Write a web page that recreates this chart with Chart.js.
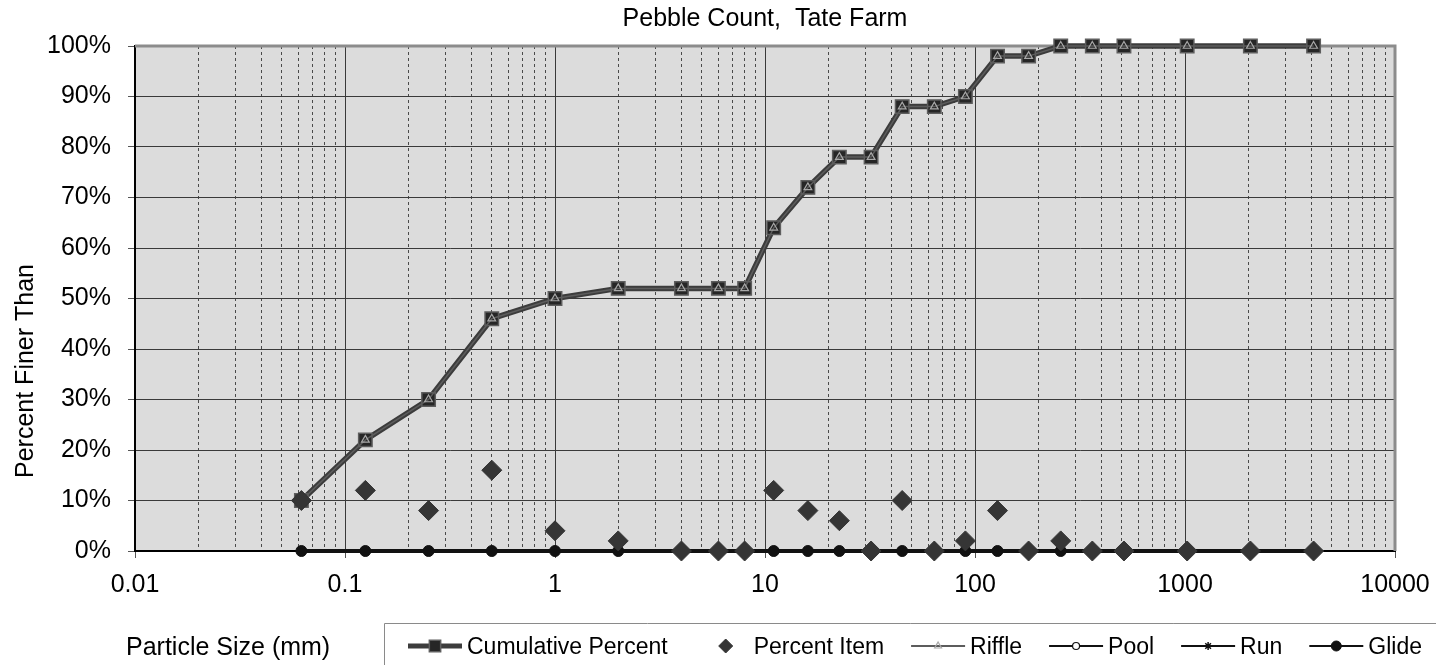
<!DOCTYPE html>
<html>
<head>
<meta charset="utf-8">
<title>Pebble Count, Tate Farm</title>
<script src="https://cdn.jsdelivr.net/npm/chart.js@4.4.1/dist/chart.umd.min.js"></script>
<style>
  html, body { margin: 0; padding: 0; background: #ffffff; }
  #wrap { width: 1436px; height: 665px; position: relative; }
</style>
</head>
<body>
<div id="wrap"><canvas id="chart" width="1436" height="665"></canvas></div>
<script>
// ---- chart text ----
const chartTitle = 'Pebble Count,  Tate Farm';
const xAxisTitle = 'Particle Size (mm)';
const yAxisTitle = 'Percent Finer Than';

// ---- sieve sizes (mm) ----
const particleSizes = [0.062, 0.125, 0.25, 0.5, 1, 2, 4, 6, 8, 11, 16, 22.6, 32, 45, 64, 90, 128, 180, 256, 362, 512, 1024, 2048, 4096];

// ---- series (percent) ----
const cumulativePercent = [10, 22, 30, 46, 50, 52, 52, 52, 52, 64, 72, 78, 78, 88, 88, 90, 98, 98, 100, 100, 100, 100, 100, 100];
const percentItem       = [10, 12, 8, 16, 4, 2, 0, 0, 0, 12, 8, 6, 0, 10, 0, 2, 8, 0, 2, 0, 0, 0, 0, 0];
const riffle            = [10, 22, 30, 46, 50, 52, 52, 52, 52, 64, 72, 78, 78, 88, 88, 90, 98, 98, 100, 100, 100, 100, 100, 100];
const pool              = [0, 0, 0, 0, 0, 0, 0, 0, 0, 0, 0, 0, 0, 0, 0, 0, 0, 0, 0, 0, 0, 0, 0, 0];
const run               = [0, 0, 0, 0, 0, 0, 0, 0, 0, 0, 0, 0, 0, 0, 0, 0, 0, 0, 0, 0, 0, 0, 0, 0];
const glide             = [0, 0, 0, 0, 0, 0, 0, 0, 0, 0, 0, 0, 0, 0, 0, 0, 0, 0, 0, 0, 0, 0, 0, 0];

// ---- axis ticks ----
const xDecades = [0.01, 0.1, 1, 10, 100, 1000, 10000];
const xDecadeLabels = ['0.01', '0.1', '1', '10', '100', '1000', '10000'];
const minorMultipliers = [2, 3, 4, 5, 6, 7, 8, 9];
const yMin = 0, yMax = 100, yStep = 10;

const FONT = "'Liberation Sans', Arial, Helvetica, sans-serif";

function points(values) {
  return particleSizes.map((x, i) => ({ x: x, y: values[i] }));
}

// full log grid: decades plus 2..9 in between
function buildLogTicks() {
  const ticks = [];
  xDecades.forEach((d, i) => {
    ticks.push({ value: d, major: true, label: xDecadeLabels[i] });
    if (i < xDecades.length - 1) {
      minorMultipliers.forEach(m => {
        ticks.push({ value: +(d * m).toPrecision(6), major: false, label: '' });
      });
    }
  });
  return ticks;
}

// plot background, frame, titles and the boxed legend
const decorations = {
  id: 'decorations',
  beforeDraw(chart) {
    const { ctx, chartArea: a } = chart;
    ctx.save();
    ctx.fillStyle = '#dcdcdc';
    ctx.fillRect(a.left, a.top, a.right - a.left, a.bottom - a.top);
    ctx.restore();
  },
  beforeDatasetsDraw(chart) {
    const { ctx, chartArea: a } = chart;
    ctx.save();
    ctx.strokeStyle = '#8c8c8c';
    ctx.lineWidth = 3;
    ctx.beginPath();
    ctx.moveTo(a.left, a.top);
    ctx.lineTo(a.right, a.top);
    ctx.lineTo(a.right, a.bottom);
    ctx.stroke();
    ctx.restore();
  },
  afterDraw(chart) {
    const { ctx, chartArea: a } = chart;
    ctx.save();
    ctx.fillStyle = '#000';
    ctx.textBaseline = 'alphabetic';

    // title
    ctx.font = '25px ' + FONT;
    ctx.textAlign = 'center';
    ctx.fillText(chartTitle, (a.left + a.right) / 2, 26);

    // y axis title
    ctx.save();
    ctx.translate(33, 371);
    ctx.rotate(-Math.PI / 2);
    ctx.textAlign = 'center';
    ctx.fillText(yAxisTitle, 0, 0);
    ctx.restore();

    // x axis title
    ctx.textAlign = 'left';
    ctx.fillText(xAxisTitle, 126, 655);

    // legend box
    ctx.strokeStyle = '#8a8a8a';
    ctx.lineWidth = 1;
    ctx.beginPath();
    ctx.moveTo(384.5, 670);
    ctx.lineTo(384.5, 623.5);
    ctx.lineTo(1440, 623.5);
    ctx.stroke();

    // legend entries, in the order of the series
    const order = ['Cumulative Percent', 'Percent Item', 'Riffle', 'Pool', 'Run', 'Glide'];
    const ds = chart.data.datasets;
    const symbolW = 54, textGap = 5, itemGap = 27, cy = 646;
    let x = 408;
    ctx.font = '23px ' + FONT;
    order.forEach(name => {
      const d = ds.find(s => s.label === name);
      const sx = x + (d.legendShift || 0);
      if (d.showLine) {
        ctx.strokeStyle = d.borderColor;
        ctx.lineWidth = d.legendLineWidth || d.borderWidth;
        ctx.beginPath();
        ctx.moveTo(x, cy);
        ctx.lineTo(x + symbolW, cy);
        ctx.stroke();
      }
      ctx.fillStyle = d.pointBackgroundColor;
      ctx.strokeStyle = d.pointBorderColor;
      ctx.lineWidth = d.pointBorderWidth;
      Chart.helpers.drawPoint(ctx, {
        pointStyle: d.pointStyle,
        radius: d.legendPointRadius,
        rotation: 0,
        borderWidth: d.pointBorderWidth
      }, sx + symbolW / 2, cy);
      ctx.fillStyle = '#000';
      ctx.textAlign = 'left';
      const tx = x + symbolW + textGap;
      ctx.fillText(name, tx, 654);
      x = tx + ctx.measureText(name).width + itemGap;
    });
    ctx.restore();
  }
};

const ctx = document.getElementById('chart').getContext('2d');
new Chart(ctx, {
  type: 'scatter',
  data: {
    datasets: [
      {
        label: 'Percent Item',
        data: points(percentItem),
        showLine: false,
        pointStyle: 'rectRot',
        pointRadius: 10,
        legendPointRadius: 7,
        legendShift: 4,
        pointBackgroundColor: '#353535',
        pointBorderColor: '#353535',
        pointBorderWidth: 1,
        order: 0,
        clip: false
      },
      {
        label: 'Riffle',
        data: points(riffle),
        showLine: true,
        borderColor: '#5c5c5c',
        borderWidth: 1.5,
        legendLineWidth: 2,
        pointStyle: 'triangle',
        pointRadius: 4.5,
        legendPointRadius: 4,
        pointBackgroundColor: 'rgba(0,0,0,0)',
        pointBorderColor: '#a8a8a8',
        pointBorderWidth: 1.2,
        order: 1,
        clip: false
      },
      {
        label: 'Cumulative Percent',
        data: points(cumulativePercent),
        showLine: true,
        borderColor: '#3c3c3c',
        borderWidth: 5.5,
        legendLineWidth: 5,
        pointStyle: 'rect',
        pointRadius: 9.5,
        legendPointRadius: 8,
        pointBackgroundColor: '#262626',
        pointBorderColor: '#5e5e5e',
        pointBorderWidth: 1.5,
        order: 2,
        clip: false
      },
      {
        label: 'Glide',
        data: points(glide),
        showLine: true,
        borderColor: '#111111',
        borderWidth: 4,
        legendLineWidth: 2,
        pointStyle: 'circle',
        pointRadius: 5.5,
        legendPointRadius: 5,
        pointBackgroundColor: '#111111',
        pointBorderColor: '#111111',
        pointBorderWidth: 1,
        order: 3,
        clip: false
      },
      {
        label: 'Run',
        data: points(run),
        showLine: true,
        borderColor: '#111111',
        borderWidth: 2,
        legendLineWidth: 2,
        pointStyle: 'star',
        pointRadius: 3,
        legendPointRadius: 4,
        pointBackgroundColor: '#111111',
        pointBorderColor: '#111111',
        pointBorderWidth: 1.5,
        order: 4,
        clip: false
      },
      {
        label: 'Pool',
        data: points(pool),
        showLine: true,
        borderColor: '#111111',
        borderWidth: 2,
        legendLineWidth: 2,
        pointStyle: 'circle',
        pointRadius: 3,
        legendPointRadius: 3.5,
        pointBackgroundColor: '#ffffff',
        pointBorderColor: '#111111',
        pointBorderWidth: 1.2,
        order: 5,
        clip: false
      }
    ]
  },
  options: {
    responsive: false,
    animation: false,
    events: [],
    layout: { padding: { top: 46, right: 41, bottom: 0, left: 0 } },
    elements: { line: { tension: 0 } },
    plugins: {
      legend: { display: false },
      title: { display: false },
      tooltip: { enabled: false }
    },
    scales: {
      x: {
        type: 'logarithmic',
        position: 'bottom',
        min: 0.01,
        max: 10000,
        afterBuildTicks: (scale) => { scale.ticks = buildLogTicks(); },
        afterFit: (scale) => {
          scale.height = 114;
          scale.paddingLeft = 0;
          scale.paddingRight = 0;
        },
        ticks: {
          autoSkip: false,
          maxRotation: 0,
          minRotation: 0,
          padding: 12,
          color: '#000',
          font: { family: FONT, size: 25 },
          callback: function (value, index, ticks) { return ticks[index].label; }
        },
        grid: {
          drawOnChartArea: true,
          color: (c) => (c.tick && c.tick.major ? '#3a3a3a' : '#4a4a4a'),
          lineWidth: 1,
          tickLength: 7,
          tickColor: (c) => (c.tick && c.tick.major ? '#555' : 'rgba(0,0,0,0)'),
          tickWidth: 1
        },
        border: {
          display: true,
          color: '#000',
          width: 2,
          dash: (c) => (c.tick && !c.tick.major ? [3, 3] : [])
        }
      },
      y: {
        type: 'linear',
        min: yMin,
        max: yMax,
        afterFit: (scale) => { scale.width = 135; },
        ticks: {
          stepSize: yStep,
          padding: 17,
          color: '#000',
          font: { family: FONT, size: 25 },
          callback: (v) => v + '%'
        },
        grid: {
          color: '#3a3a3a',
          lineWidth: 1,
          tickLength: 7,
          tickColor: '#555',
          tickWidth: 1
        },
        border: { display: true, color: '#000', width: 2 }
      }
    }
  },
  plugins: [decorations]
});
</script>
</body>
</html>
